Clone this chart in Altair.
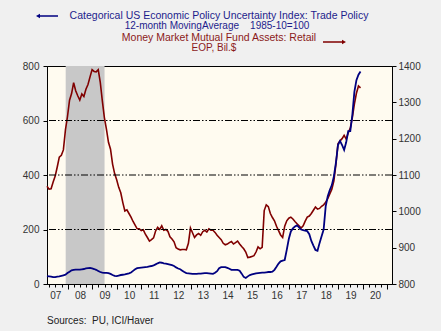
import altair as alt
import pandas as pd

# ---- data (monthly) ----
start_year = 2007.16
mmf_retail = [1069,1061,1062,1081,1097,1122,1149,1154,1169,1224,
    1261,1306,1324,1354,1332,1318,1306,1323,1316,1336,
    1349,1370,1390,1385,1384,1390,1355,1304,1258,1226,
    1190,1171,1130,1104,1087,1066,1051,1024,1001,1004,
    994,984,972,962,952,952,947,949,937,928,
    918,922,927,946,956,950,960,948,950,945,
    930,924,916,900,896,894,895,895,894,912,
    954,941,928,935,939,934,944,948,943,952,
    948,948,942,934,928,922,912,908,910,914,
    917,910,914,918,910,903,897,888,873,874,
    876,878,888,902,897,901,1002,1018,1013,994,
    983,974,959,947,935,928,959,974,981,984,
    979,972,966,960,954,960,973,984,987,994,
    1003,1012,1006,1008,1014,1018,1025,1035,1048,1061,
    1084,1130,1186,1194,1200,1209,1199,1216,1229,1258,
    1295,1325,1345,1340]
trade_epu = [29,28,27,25,25,27,28,30,32,34,
    40,45,50,52,53,53,53,54,55,57,
    58,59,57,55,52,48,44,42,41,41,
    40,37,33,30,29,31,33,34,35,37,
    39,42,48,54,58,59,60,61,62,63,
    65,66,68,72,76,79,78,76,75,73,
    71,69,66,61,57,54,49,44,40,39,
    38,37,37,37,38,38,39,40,40,39,
    38,37,41,47,58,62,62,62,59,56,
    52,52,52,52,49,38,26,22,28,33,
    35,37,39,40,41,42,42,43,44,44,
    45,52,63,75,83,86,88,125,165,193,
    204,211,215,208,200,198,196,194,183,158,
    141,125,122,150,175,200,285,322,345,363,
    395,445,510,525,510,492,520,561,561,620,
    705,748,768,780]
years = [round(start_year + i / 12, 4) for i in range(len(trade_epu))]

recession_start = [2007.92]
recession_end = [2009.5]
grid_levels = [200, 400, 600]
left_ticks = [0, 200, 400, 600, 800]
right_ticks = [800, 900, 1000, 1100, 1200, 1300, 1400]
x_ticks = [2007.25 + 0.25 * i for i in range(56)]

title1 = "Categorical US Economic Policy Uncertainty Index: Trade Policy"
title2 = "12-month MovingAverage\u00a0\u00a0\u00a0\u00a01985-10=100"
title3 = "Money Market Mutual Fund Assets: Retail"
title4 = "EOP, Bil.$"
source = "Sources:\u00a0\u00a0PU, ICI/Haver"

# ---- chart ----
FONT = "Liberation Sans"
BLUE = "#000080"
RED = "#800000"

df = pd.DataFrame({"t": years, "mmf": mmf_retail, "epu": trade_epu})
rec = pd.DataFrame({"s": recession_start, "e": recession_end})
grid = pd.DataFrame({"g": grid_levels})

xscale = alt.Scale(domain=[2007.16, 2021.19], nice=False, zero=False)
xaxis = alt.Axis(
    values=x_ticks, title=None, grid=False,
    labelExpr="abs(datum.value - floor(datum.value) - 0.5) < 0.01 ? slice(toString(floor(datum.value)), 2) : ''",
    tickSize={"condition": {"test": "abs(datum.value - round(datum.value)) < 0.01", "value": 5}, "value": 3},
    labelOverlap=False, labelFlush=False, labelPadding=3,
    labelFont=FONT, labelFontSize=10, labelColor="#333333",
    domainColor="black", tickColor="black",
)
lscale = alt.Scale(domain=[0, 800], nice=False, zero=False)
laxis = alt.Axis(orient="left", values=left_ticks, title=None, grid=False, format="d",
                 tickSize=4, labelPadding=4, labelFont=FONT, labelFontSize=10,
                 labelColor="#333333", domainColor="black", tickColor="black")
rscale = alt.Scale(domain=[800, 1400], nice=False, zero=False)
raxis = alt.Axis(orient="right", values=right_ticks, title=None, grid=False, format="d",
                 tickSize=4, labelPadding=2, labelFont=FONT, labelFontSize=10,
                 labelColor="#333333", domainColor="black", tickColor="black")

rect = alt.Chart(rec).mark_rect(color="#C8C8C8").encode(
    x=alt.X("s:Q", scale=xscale, axis=xaxis), x2="e:Q")
red_line = alt.Chart(df).mark_line(color=RED, strokeWidth=1.6).encode(
    x=alt.X("t:Q", scale=xscale, axis=xaxis),
    y=alt.Y("mmf:Q", scale=rscale, axis=raxis))
right_group = alt.layer(rect, red_line)

rules = alt.Chart(grid).mark_rule(color="black", strokeWidth=1,
                                  strokeDash=[7, 2, 1.5, 2, 1.5, 2]).encode(
    y=alt.Y("g:Q", scale=lscale, axis=laxis))
blue_line = alt.Chart(df).mark_line(color=BLUE, strokeWidth=1.8).encode(
    x=alt.X("t:Q", scale=xscale, axis=xaxis),
    y=alt.Y("epu:Q", scale=lscale, axis=laxis))
left_group = alt.layer(rules, blue_line)

def txt(s, x, y, color, size=10, align="center"):
    return alt.Chart(pd.DataFrame({"s": [s]})).mark_text(
        font=FONT, fontSize=size, color=color, align=align, baseline="middle"
    ).encode(text="s:N", x=alt.value(x), y=alt.value(y))

TB = "#1C1C8C"
TR = "#8B1A1A"
texts = [
    txt(title1, 172, -50, TB, 10.5),
    txt(title2, 170, -40, TB, 10),
    txt(title3, 172, -28, TR, 10.5),
    txt(title4, 167, -18, TR, 10),
    txt(source, 0, 255, "#222222", 10, "left"),
]
arrows = [
    alt.Chart(pd.DataFrame({"a": [0]})).mark_rule(color=BLUE, strokeWidth=1.5).encode(
        x=alt.value(-8), x2=alt.value(11), y=alt.value(-50)),
    alt.Chart(pd.DataFrame({"a": [0]})).mark_point(shape="triangle-left", filled=True,
        color=BLUE, size=22, opacity=1).encode(x=alt.value(-9), y=alt.value(-50)),
    alt.Chart(pd.DataFrame({"a": [0]})).mark_rule(color=RED, strokeWidth=1.5).encode(
        x=alt.value(276), x2=alt.value(296), y=alt.value(-24)),
    alt.Chart(pd.DataFrame({"a": [0]})).mark_point(shape="triangle-right", filled=True,
        color=RED, size=22, opacity=1).encode(x=alt.value(297), y=alt.value(-24)),
]

chart = alt.layer(right_group, left_group, *texts, *arrows).resolve_scale(
    y="independent"
).properties(
    width=345, height=218, background="#F0F0F0",
    padding={"left": 47, "top": 66, "right": 49, "bottom": 47},
    autosize="none",
).configure_view(fill="#FFFBF0", stroke="black", strokeWidth=1)

chart.save("out.html", embed_options={"renderer": "svg", "actions": False})
